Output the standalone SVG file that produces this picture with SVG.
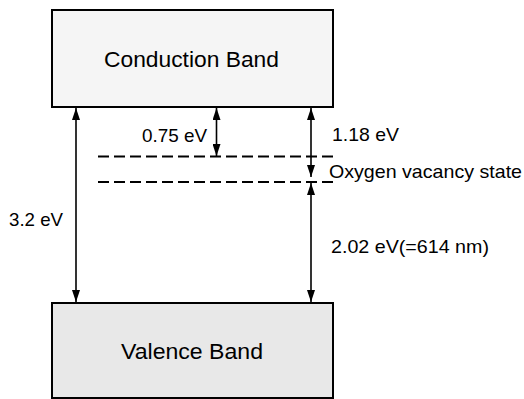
<svg xmlns="http://www.w3.org/2000/svg" width="524" height="399" viewBox="0 0 524 399">
  <defs>
    <marker id="ah" viewBox="0 0 12 8" refX="12" refY="4" markerWidth="12" markerHeight="8" markerUnits="userSpaceOnUse" orient="auto-start-reverse">
      <path d="M0,0 L12,4 L0,8 z" fill="#000"/>
    </marker>
    <style>
      .band { stroke: #000; stroke-width: 2; }
      .lbl { font-family: "Liberation Sans", Arial, sans-serif; fill: #000; }
      .big { font-size: 21.5px; }
      .small { font-size: 18.5px; }
      .arr { stroke: #000; stroke-width: 1.6; fill: none; marker-start: url(#ah); marker-end: url(#ah); }
      .lvl { stroke: #000; stroke-width: 1.8; stroke-dasharray: 11 5; fill: none; }
    </style>
  </defs>
  <rect width="524" height="399" fill="#fff"/>

  <g id="conduction-band">
    <rect class="band" x="52" y="10" width="281" height="97" fill="#f5f5f5"/>
    <text class="lbl big" x="104" y="67" textLength="175" lengthAdjust="spacingAndGlyphs">Conduction Band</text>
  </g>

  <g id="valence-band">
    <rect class="band" x="52" y="303" width="281" height="95" fill="#e8e8e8"/>
    <text class="lbl big" x="121" y="359" textLength="142" lengthAdjust="spacingAndGlyphs">Valence Band</text>
  </g>

  <g id="oxygen-vacancy-state">
    <line class="lvl" x1="98" y1="156.5" x2="335" y2="156.5"/>
    <line class="lvl" x1="98" y1="182" x2="335" y2="182"/>
    <text class="lbl small" x="329" y="177.5" textLength="193" lengthAdjust="spacingAndGlyphs">Oxygen vacancy state</text>
  </g>

  <g id="connectors">
    <line class="arr" x1="76" y1="108" x2="76" y2="302"/>
    <line class="arr" x1="216.5" y1="108" x2="216.5" y2="156"/>
    <line class="arr" x1="311" y1="108" x2="311" y2="177"/>
    <line class="arr" x1="311" y1="183" x2="311" y2="302"/>
  </g>

  <g id="labels">
    <text class="lbl small" x="9" y="225.5" textLength="54" lengthAdjust="spacingAndGlyphs">3.2 eV</text>
    <text class="lbl small" x="142" y="141.5" textLength="65" lengthAdjust="spacingAndGlyphs">0.75 eV</text>
    <text class="lbl small" x="332" y="141" textLength="67" lengthAdjust="spacingAndGlyphs">1.18 eV</text>
    <text class="lbl small" x="331" y="252.5" textLength="158" lengthAdjust="spacingAndGlyphs">2.02 eV(=614 nm)</text>
  </g>
</svg>
